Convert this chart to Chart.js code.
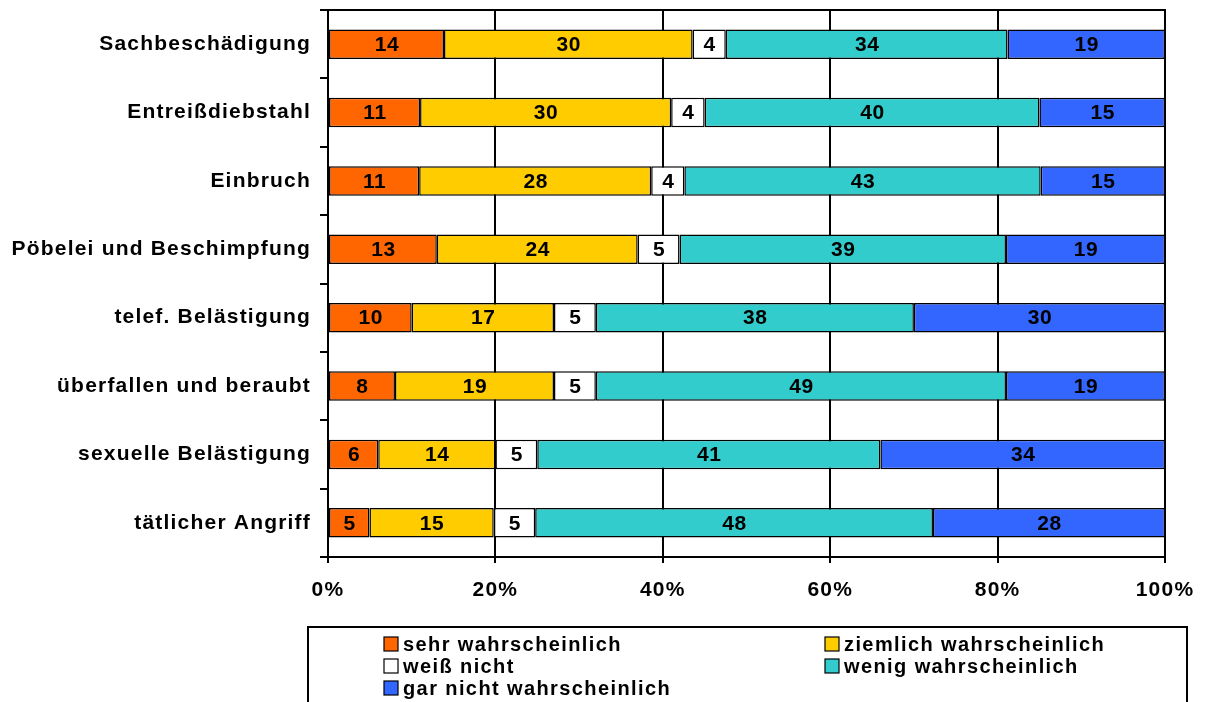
<!DOCTYPE html>
<html>
<head>
<meta charset="utf-8">
<script src="https://cdn.jsdelivr.net/npm/chart.js@4.4.1/dist/chart.umd.min.js"></script>
<style>
  html, body { margin: 0; padding: 0; background: #ffffff; }
  canvas { display: block; }
</style>
</head>
<body>
<canvas id="chart" width="1205" height="702"></canvas>
<script>
// Offence categories (top to bottom)
const categories = [
  'Sachbeschädigung',
  'Entreißdiebstahl',
  'Einbruch',
  'Pöbelei und Beschimpfung',
  'telef. Belästigung',
  'überfallen und beraubt',
  'sexuelle Belästigung',
  'tätlicher Angriff'
];

// Answer categories
const seriesNames = [
  'sehr wahrscheinlich',
  'ziemlich wahrscheinlich',
  'weiß nicht',
  'wenig wahrscheinlich',
  'gar nicht wahrscheinlich'
];

// Answers in percent per offence
const sehrWahrscheinlich     = [14, 11, 11, 13, 10,  8,  6,  5];
const ziemlichWahrscheinlich = [30, 30, 28, 24, 17, 19, 14, 15];
const weissNicht             = [ 4,  4,  4,  5,  5,  5,  5,  5];
const wenigWahrscheinlich    = [34, 40, 43, 39, 38, 49, 41, 48];
const garNichtWahrscheinlich = [19, 15, 15, 19, 30, 19, 34, 28];

const tickLabels = ['0%', '20%', '40%', '60%', '80%', '100%'];

const seriesValues = [
  sehrWahrscheinlich,
  ziemlichWahrscheinlich,
  weissNicht,
  wenigWahrscheinlich,
  garNichtWahrscheinlich
];
const seriesColors = ['#FF6600', '#FFCC00', '#FFFFFF', '#33CCCC', '#3366FF'];

const FONT_FAMILY = '"Liberation Sans", Arial, Helvetica, sans-serif';

// Each bar is scaled to 100 % of its row total
const rowTotals = categories.map((_, i) =>
  seriesValues.reduce((sum, arr) => sum + arr[i], 0));

const datasets = seriesValues.map((arr, k) => ({
  label: seriesNames[k],
  data: arr.map((v, i) => v / rowTotals[i] * 100),
  rawValues: arr,
  backgroundColor: seriesColors[k],
  borderColor: '#000000',
  borderWidth: 1.5,
  borderSkipped: false,
  barPercentage: 0.43,
  categoryPercentage: 1.0
}));

// Letter spacing for axis text
const spacingPlugin = {
  id: 'spacing',
  beforeDraw(chart) { chart.ctx.letterSpacing = '1.2px'; }
};

// Frame line along the top of the plot area
const framePlugin = {
  id: 'frame',
  afterDatasetsDraw(chart) {
    const { ctx, chartArea } = chart;
    ctx.save();
    ctx.strokeStyle = '#000000';
    ctx.lineWidth = 2;
    ctx.beginPath();
    ctx.moveTo(chartArea.left - 8, chartArea.top);
    ctx.lineTo(chartArea.right + 1, chartArea.top);
    ctx.stroke();
    ctx.restore();
  }
};

// Value labels centred in each segment
const valueLabelPlugin = {
  id: 'valueLabels',
  afterDatasetsDraw(chart) {
    const ctx = chart.ctx;
    ctx.save();
    ctx.font = 'bold 21px ' + FONT_FAMILY;
    ctx.letterSpacing = '0.6px';
    ctx.fillStyle = '#000000';
    ctx.textAlign = 'center';
    ctx.textBaseline = 'middle';
    chart.data.datasets.forEach((ds, k) => {
      const meta = chart.getDatasetMeta(k);
      meta.data.forEach((el, i) => {
        const x = (el.x + el.base) / 2;
        ctx.fillText(String(ds.rawValues[i]), x + 0.5, el.y + 1);
      });
    });
    ctx.restore();
  }
};

// Boxed legend in two columns below the chart
const legendPlugin = {
  id: 'boxLegend',
  afterDraw(chart) {
    const ctx = chart.ctx;
    ctx.save();
    ctx.strokeStyle = '#000000';
    ctx.lineWidth = 2;
    ctx.strokeRect(308, 627, 879, 90);
    ctx.font = 'bold 20px ' + FONT_FAMILY;
    ctx.letterSpacing = '1.4px';
    ctx.textAlign = 'left';
    ctx.textBaseline = 'middle';
    const colX = [384, 825];
    const rowY = [644, 666, 688];
    chart.data.datasets.forEach((ds, k) => {
      const x = colX[k % 2];
      const y = rowY[Math.floor(k / 2)];
      ctx.fillStyle = ds.backgroundColor;
      ctx.fillRect(x, y - 7, 14, 14);
      ctx.lineWidth = 1.2;
      ctx.strokeRect(x, y - 7, 14, 14);
      ctx.fillStyle = '#000000';
      ctx.fillText(ds.label, x + 19, y + 1);
    });
    ctx.restore();
  }
};

new Chart(document.getElementById('chart'), {
  type: 'bar',
  data: { labels: categories, datasets },
  plugins: [spacingPlugin, valueLabelPlugin, framePlugin, legendPlugin],
  options: {
    indexAxis: 'y',
    responsive: false,
    animation: false,
    devicePixelRatio: 1,
    layout: { padding: { left: 0, top: 10, right: 40, bottom: 100 } },
    plugins: {
      legend: { display: false },
      tooltip: { enabled: false }
    },
    scales: {
      x: {
        stacked: true,
        min: 0,
        max: 100,
        afterFit(scale) {
          scale.height = 45;
          scale.paddingLeft = 0;
          scale.paddingRight = 0;
        },
        ticks: {
          stepSize: 20,
          padding: 15,
          color: '#000000',
          font: { family: FONT_FAMILY, size: 21, weight: 'bold' },
          callback: (value, index) => tickLabels[index]
        },
        grid: {
          color: '#000000',
          lineWidth: 2,
          tickLength: 6,
          drawTicks: true
        },
        border: { display: true, color: '#000000', width: 2 }
      },
      y: {
        stacked: true,
        offset: true,
        afterFit(scale) {
          scale.width = 328;
          scale.paddingTop = 0;
          scale.paddingBottom = 0;
        },
        ticks: {
          padding: 9,
          color: '#000000',
          font: { family: FONT_FAMILY, size: 21, weight: 'bold' }
        },
        grid: {
          offset: true,
          drawOnChartArea: false,
          color: '#000000',
          lineWidth: 2,
          tickLength: 8
        },
        border: { display: true, color: '#000000', width: 2 }
      }
    }
  }
});
</script>
</body>
</html>
